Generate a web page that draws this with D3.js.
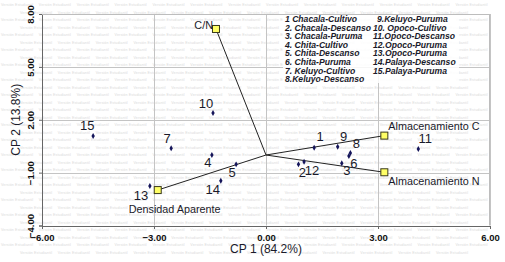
<!DOCTYPE html>
<html>
<head>
<meta charset="utf-8">
<script src="https://cdn.jsdelivr.net/npm/d3@7"></script>
<style>
  body { margin: 0; background: #fff; }
  svg { display: block; font-family: Arial, "Liberation Sans", sans-serif; }
</style>
</head>
<body>
<div id="chart"></div>
<script>
// observations (scores on CP1 / CP2)
const obsIds = [1, 2, 3, 4, 5, 6, 7, 8, 9, 10, 11, 12, 13, 14, 15];
const obsCP1 = [1.29, 0.87, 2.03, -1.45, -0.80, 2.22, -2.54, 2.26, 1.92, -1.42, 4.08, 1.02, -3.11, -1.21, -4.63];
const obsCP2 = [0.41, -0.53, -0.47, 0.00, -0.53, -0.06, 0.38, 0.11, 0.47, 2.38, 0.34, -0.38, -1.76, -1.46, 1.08];

// variables (loadings)
const varNames = ["C/N", "Almacenamiento C", "Almacenamiento N", "Densidad Aparente"];
const varCP1 = [-1.34, 3.17, 3.17, -2.90];
const varCP2 = [7.15, 1.10, -0.98, -1.99];

// legend text
const legendCol1 = ["1 Chacala-Cultivo", "2. Chacala-Descanso", "3. Chacala-Puruma", "4. Chita-Cultivo",
  "5. Chita-Descanso", "6. Chita-Puruma", "7. Keluyo-Cultivo", "8.Keluyo-Descanso"];
const legendCol2 = ["9.Keluyo-Puruma", "10. Opoco-Cultivo", "11.Opoco-Descanso", "12.Opoco-Puruma",
  "13.Opoco-Puruma", "14.Palaya-Descanso", "15.Palaya-Puruma"];

const xTicks = [-6, -3, 0, 3, 6];
const yTicks = [-4, -1, 2, 5, 8];

const watermark = "Versión Estudiantil";

// label placement offsets (px) for observation numbers
const obsLabelOffset = {
  1: [6, -7], 2: [4, 13], 3: [5, 12], 4: [-4, 12], 5: [-4, 13], 6: [5, 12], 7: [-4, -5], 8: [6, -5],
  9: [6, -6], 10: [-7, -5], 11: [7, -6], 12: [8, 13], 13: [-9, 14], 14: [-8, 13], 15: [-6, -6]
};
// variable label placement: [dx, dy, anchor]
const varLabelOffset = {
  "C/N": [-3, 0, "end"], "Almacenamiento C": [4, -6, "start"],
  "Almacenamiento N": [4, 13, "start"], "Densidad Aparente": [-29, 23, "start"]
};

const width = 505, height = 262;
const svg = d3.select("#chart").append("svg")
  .attr("width", width).attr("height", height);

// faint watermark rows of the student version
const wm = svg.append("g").attr("fill", "#dadada").attr("font-size", 3.6);
for (let i = 0; i < 34; i++) {
  const reps = i % 2 ? 12 : 13;
  wm.append("text")
    .attr("x", i % 2 ? 20 : 1)
    .attr("y", 6 + i * 7.5)
    .attr("textLength", reps * 38.5 - 14)
    .attr("lengthAdjust", "spacing")
    .text(d3.range(reps).map(() => watermark).join("\u00a0\u00a0\u00a0\u00a0\u00a0"));
}

const x = d3.scaleLinear().domain([-6, 6]).range([42, 490]);
const y = d3.scaleLinear().domain([-4, 8]).range([225.5, 14]);

// grid
const grid = svg.append("g").attr("stroke", "#c4c4c4").attr("stroke-width", 1);
grid.selectAll(".gx").data(xTicks.slice(1)).enter().append("line")
  .attr("x1", d => Math.round(x(d)) + 0.5).attr("x2", d => Math.round(x(d)) + 0.5)
  .attr("y1", y(8)).attr("y2", y(-4));
grid.selectAll(".gy").data(yTicks.slice(1)).enter().append("line")
  .attr("y1", d => Math.round(y(d)) + 0.5).attr("y2", d => Math.round(y(d)) + 0.5)
  .attr("x1", x(-6)).attr("x2", x(6));

// legend background covering the grid
svg.append("rect")
  .attr("x", 283).attr("y", 15).attr("width", 176).attr("height", 68)
  .attr("fill", "#fff").attr("fill-opacity", 0.85);

// axes
const xAxis = svg.append("g")
  .attr("transform", "translate(0," + Math.round(y(-4)) + ")")
  .call(d3.axisBottom(x).tickValues(xTicks).tickFormat(d3.format(".2f")).tickSize(3));
xAxis.select(".domain").attr("stroke", "#666");
xAxis.selectAll(".tick line").attr("stroke", "#666");
xAxis.selectAll("text")
  .attr("font-size", 9.5).attr("font-weight", "bold").attr("fill", "#111")
  .attr("font-family", "Arial, 'Liberation Sans', sans-serif").attr("dy", "0.95em");

const yAxis = svg.append("g")
  .attr("transform", "translate(" + x(-6) + ",0)")
  .call(d3.axisLeft(y).tickValues(yTicks).tickFormat(d3.format(".2f")).tickSize(3));
yAxis.select(".domain").attr("stroke", "#666");
yAxis.selectAll(".tick line").attr("stroke", "#666");
yAxis.selectAll("text")
  .attr("font-size", 9.5).attr("font-weight", "bold").attr("fill", "#111")
  .attr("font-family", "Arial, 'Liberation Sans', sans-serif")
  .attr("x", 0).attr("dy", 0)
  .attr("text-anchor", "middle")
  .attr("transform", "translate(-8,0) rotate(-90)");

// top/right border
svg.append("path")
  .attr("d", "M" + x(-6) + "," + (y(8) + 0.5) + "H" + (x(6) - 0.5) + "V" + y(-4))
  .attr("fill", "none").attr("stroke", "#bdbdbd");

// axis titles
svg.append("text")
  .attr("x", x(0)).attr("y", 253)
  .attr("text-anchor", "middle").attr("font-size", 12).attr("fill", "#1a1a2a")
  .text("CP 1 (84.2%)");
svg.append("text")
  .attr("transform", "translate(20," + y(2) + ") rotate(-90)")
  .attr("text-anchor", "middle").attr("font-size", 12).attr("fill", "#1a1a2a")
  .text("CP 2 (13.8%)");

// variable vectors
const vars = varNames.map((n, i) => ({ name: n, cp1: varCP1[i], cp2: varCP2[i] }));
svg.append("g").selectAll("line").data(vars).enter().append("line")
  .attr("x1", x(0)).attr("y1", y(0))
  .attr("x2", d => x(d.cp1)).attr("y2", d => y(d.cp2))
  .attr("stroke", "#222").attr("stroke-width", 1);

// observations
const obs = obsIds.map((id, i) => ({ id: id, cp1: obsCP1[i], cp2: obsCP2[i] }));
svg.append("g").selectAll("path").data(obs).enter().append("path")
  .attr("d", d3.symbol(d3.symbolDiamond, 10))
  .attr("transform", d => "translate(" + x(d.cp1) + "," + y(d.cp2) + ")")
  .attr("fill", "#15155a");

svg.append("g").selectAll("text").data(obs).enter().append("text")
  .attr("x", d => x(d.cp1) + obsLabelOffset[d.id][0])
  .attr("y", d => y(d.cp2) + obsLabelOffset[d.id][1])
  .attr("text-anchor", "middle").attr("font-size", 13).attr("fill", "#1a1a2a")
  .text(d => d.id);

// variable end markers
svg.append("g").selectAll("rect").data(vars).enter().append("rect")
  .attr("x", d => x(d.cp1) - 3.5).attr("y", d => y(d.cp2) - 3.5)
  .attr("width", 7).attr("height", 7)
  .attr("fill", "#ffff66").attr("stroke", "#3a3a1a").attr("stroke-width", 1);

svg.append("g").selectAll("text").data(vars).enter().append("text")
  .attr("x", d => x(d.cp1) + varLabelOffset[d.name][0])
  .attr("y", d => y(d.cp2) + varLabelOffset[d.name][1])
  .attr("text-anchor", d => varLabelOffset[d.name][2])
  .attr("font-size", 10.8).attr("fill", "#1a1a2a")
  .text(d => d.name);

// legend
const leg = svg.append("g")
  .attr("font-size", 8.6).attr("font-weight", "bold").attr("font-style", "italic").attr("fill", "#1a1a2a");
leg.selectAll(".c1").data(legendCol1).enter().append("text")
  .attr("x", 285).attr("y", (d, i) => 22 + i * 8.6).text(d => d);
leg.selectAll(".c2").data(legendCol2).enter().append("text")
  .attr("x", (d, i) => i === 0 ? 377 : 373).attr("y", (d, i) => 22 + i * 8.6).text(d => d);
</script>
</body>
</html>
